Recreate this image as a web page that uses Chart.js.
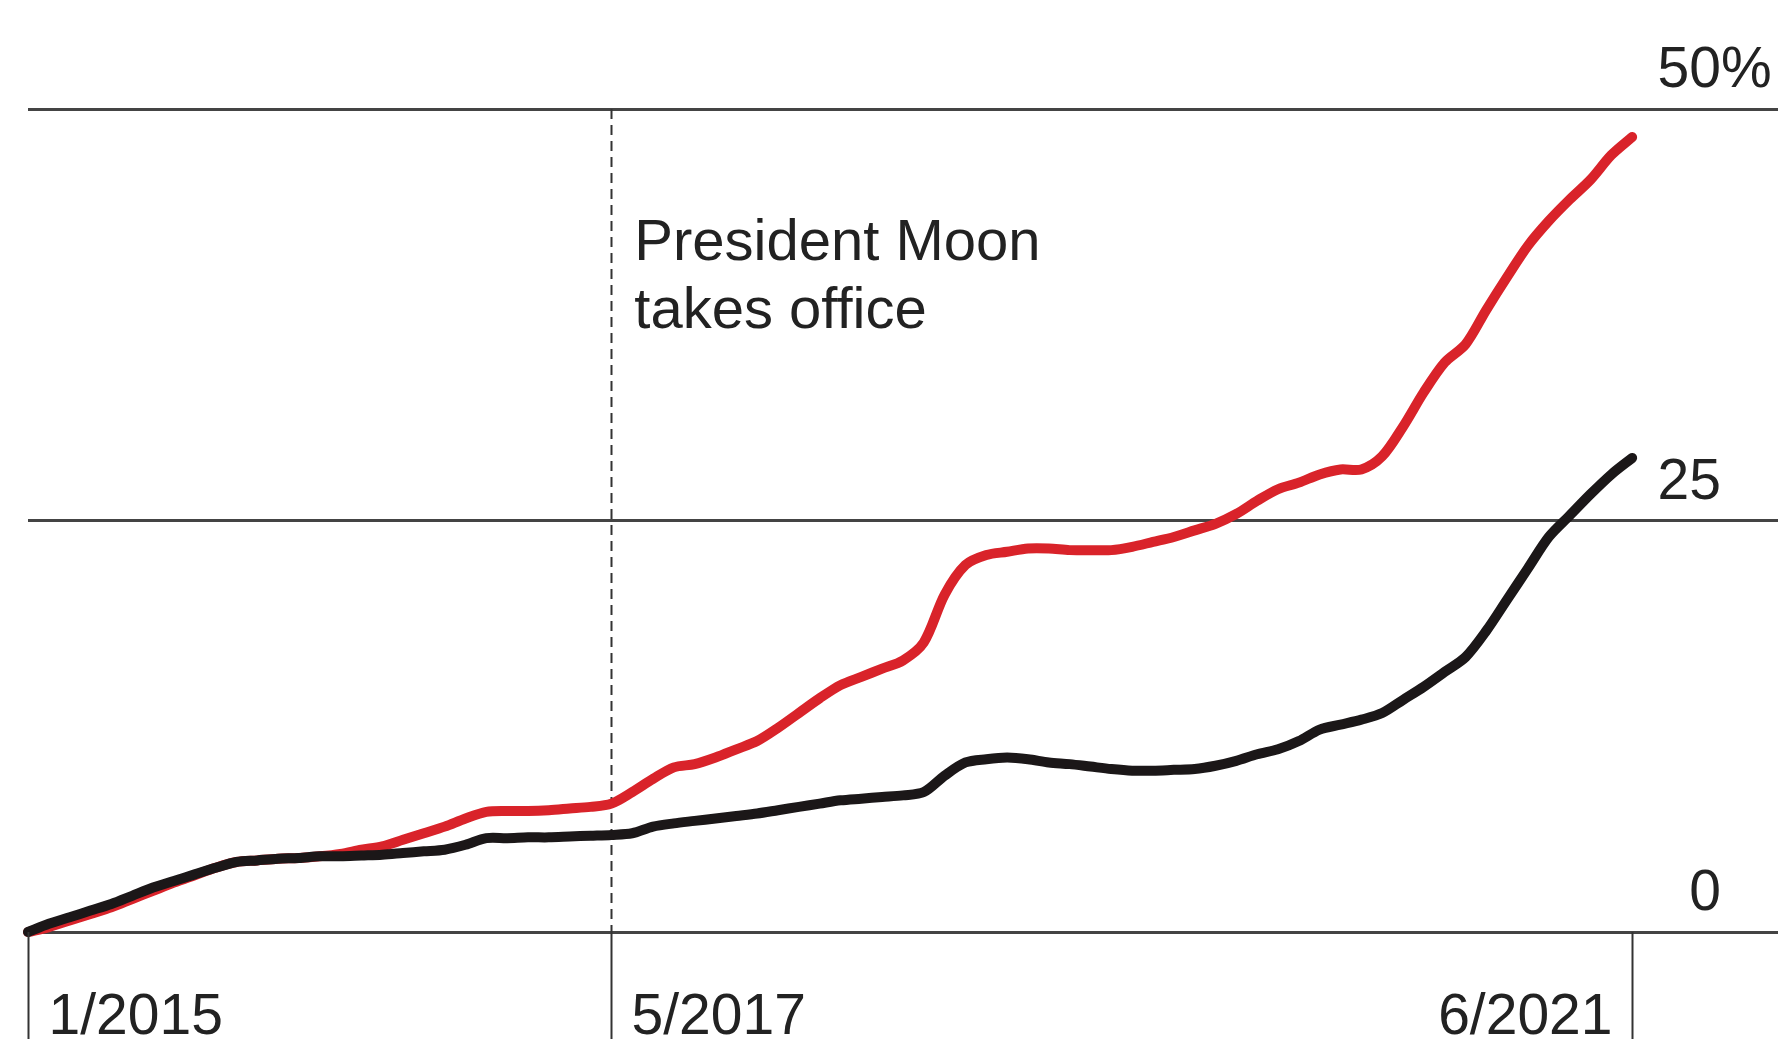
<!DOCTYPE html>
<html>
<head>
<meta charset="utf-8">
<script src="https://cdn.jsdelivr.net/npm/chart.js@4.4.1/dist/chart.umd.min.js"></script>
<style>
  html, body { margin: 0; padding: 0; background: #fff; }
  #wrap { width: 1785px; height: 1039px; position: relative; }
</style>
</head>
<body>
<div id="wrap"><canvas id="chart"></canvas></div>
<script>
// months since 1/2015 (index 0 = 1/2015, 77 = 6/2021)
const redSeries = [
    0, 0.3, 0.7, 1.1, 1.5, 2.0, 2.5, 3.0, 3.45, 3.9,
    4.25, 4.35, 4.45, 4.5, 4.6, 4.75, 5.0, 5.2, 5.6, 6.0,
    6.4, 6.9, 7.3, 7.35, 7.35, 7.4, 7.5, 7.6, 7.8, 8.5,
    9.3, 10.0, 10.2, 10.6, 11.1, 11.6, 12.4, 13.3, 14.2, 15.0,
    15.5, 16.0, 16.5, 17.6, 20.5, 22.3, 22.9, 23.1, 23.3, 23.3,
    23.2, 23.2, 23.2, 23.4, 23.7, 24.0, 24.4, 24.8, 25.4, 26.2,
    26.9, 27.3, 27.8, 28.1, 28.1, 28.9, 30.7, 32.8, 34.6, 35.7,
    37.8, 39.8, 41.7, 43.2, 44.5, 45.7, 47.2, 48.3
];
const blackSeries = [
    0, 0.5, 0.9, 1.3, 1.7, 2.2, 2.7, 3.1, 3.5, 3.9,
    4.25, 4.35, 4.45, 4.5, 4.6, 4.6, 4.65, 4.7, 4.8, 4.9,
    5.0, 5.3, 5.7, 5.7, 5.75, 5.75, 5.8, 5.85, 5.9, 6.0,
    6.4, 6.6, 6.75, 6.9, 7.05, 7.2, 7.4, 7.6, 7.8, 8.0,
    8.1, 8.2, 8.3, 8.5, 9.5, 10.3, 10.5, 10.6, 10.5, 10.3,
    10.2, 10.05, 9.9, 9.8, 9.8, 9.85, 9.9, 10.1, 10.4, 10.8,
    11.1, 11.6, 12.3, 12.6, 12.9, 13.3, 14.1, 14.9, 15.8, 16.7,
    18.3, 20.2, 22.1, 24.0, 25.3, 26.6, 27.8, 28.8
];

const xMax = 84; // axis runs on to 1/2022
const xTickMonths = [0, 28, 77];
const xTickLabels = ['1/2015', '5/2017', '6/2021'];
const yTicks = [0, 25, 50];
const yTickLabels = ['0', '25', '50'];
const moonMonth = 28;
const moonNote = ['President Moon', 'takes office'];

const FONT = '57px "Liberation Sans", Arial, Helvetica, sans-serif';
const NOTE_FONT = '58px "Liberation Sans", Arial, Helvetica, sans-serif';
const TEXT = '#222';

const toPoints = arr => arr.map((v, i) => ({ x: i, y: v }));

// axis decorations: dashed marker, ticks under the baseline, labels
const decorations = {
    id: 'decorations',
    beforeDatasetsDraw(chart) {
        const { ctx, scales: { x, y } } = chart;
        const mx = Math.round(x.getPixelForValue(moonMonth)) + 0.5;
        ctx.save();
        ctx.strokeStyle = '#333';
        ctx.lineWidth = 2;
        ctx.setLineDash([10, 6]);
        ctx.beginPath();
        ctx.moveTo(mx, y.getPixelForValue(50));
        ctx.lineTo(mx, y.getPixelForValue(0));
        ctx.stroke();
        ctx.restore();
    },
    afterDraw(chart) {
        const { ctx, scales: { x, y }, chartArea } = chart;
        const base = y.getPixelForValue(0);
        ctx.save();
        ctx.strokeStyle = '#333';
        ctx.lineWidth = 2;
        ctx.fillStyle = TEXT;
        ctx.font = FONT;
        ctx.textBaseline = 'alphabetic';

        xTickMonths.forEach((m, i) => {
            const px = Math.round(x.getPixelForValue(m)) + 0.5;
            ctx.beginPath();
            ctx.moveTo(px, base);
            ctx.lineTo(px, chart.height);
            ctx.stroke();
            const last = i === xTickMonths.length - 1;
            ctx.textAlign = last ? 'right' : 'left';
            ctx.fillText(xTickLabels[i], last ? px - 20 : px + 20, base + 102);
        });

        // value labels sit above their gridline, on the right
        const rx = chartArea.right - 57;
        yTicks.forEach((v, i) => {
            const py = y.getPixelForValue(v) - 22;
            ctx.textAlign = 'right';
            ctx.fillText(yTickLabels[i], rx, py);
            if (i === yTicks.length - 1) {
                ctx.textAlign = 'left';
                ctx.fillText('%', rx, py);
            }
        });

        // annotation next to the dashed line
        const ax = x.getPixelForValue(moonMonth) + 23;
        const ay = y.getPixelForValue(50);
        ctx.font = NOTE_FONT;
        ctx.textAlign = 'left';
        ctx.fillText(moonNote[0], ax, ay + 151);
        ctx.fillText(moonNote[1], ax, ay + 219);
        ctx.restore();
    }
};

const ctx = document.getElementById('chart').getContext('2d');
new Chart(ctx, {
    type: 'line',
    data: {
        datasets: [
            {
                label: 'black',
                data: toPoints(blackSeries),
                borderColor: '#1b1718',
                borderWidth: 10,
                pointRadius: 0,
                tension: 0.3,
                borderCapStyle: 'round',
                borderJoinStyle: 'round',
                clip: false
            },
            {
                label: 'red',
                data: toPoints(redSeries),
                borderColor: '#d9232a',
                borderWidth: 10,
                pointRadius: 0,
                tension: 0.3,
                borderCapStyle: 'round',
                borderJoinStyle: 'round',
                clip: false
            }
        ]
    },
    options: {
        responsive: true,
        maintainAspectRatio: false,
        animation: false,
        events: [],
        layout: { padding: { left: 28, right: 7, top: 109, bottom: 107 } },
        plugins: { legend: { display: false }, tooltip: { enabled: false } },
        scales: {
            x: { type: 'linear', min: 0, max: xMax, display: false },
            y: {
                type: 'linear',
                position: 'right',
                min: 0,
                max: 50,
                afterBuildTicks: axis => { axis.ticks = yTicks.map(v => ({ value: v })); },
                ticks: { display: false },
                border: { display: false },
                grid: { color: '#444', lineWidth: 3, drawTicks: false }
            }
        }
    },
    plugins: [decorations]
});
</script>
</body>
</html>
